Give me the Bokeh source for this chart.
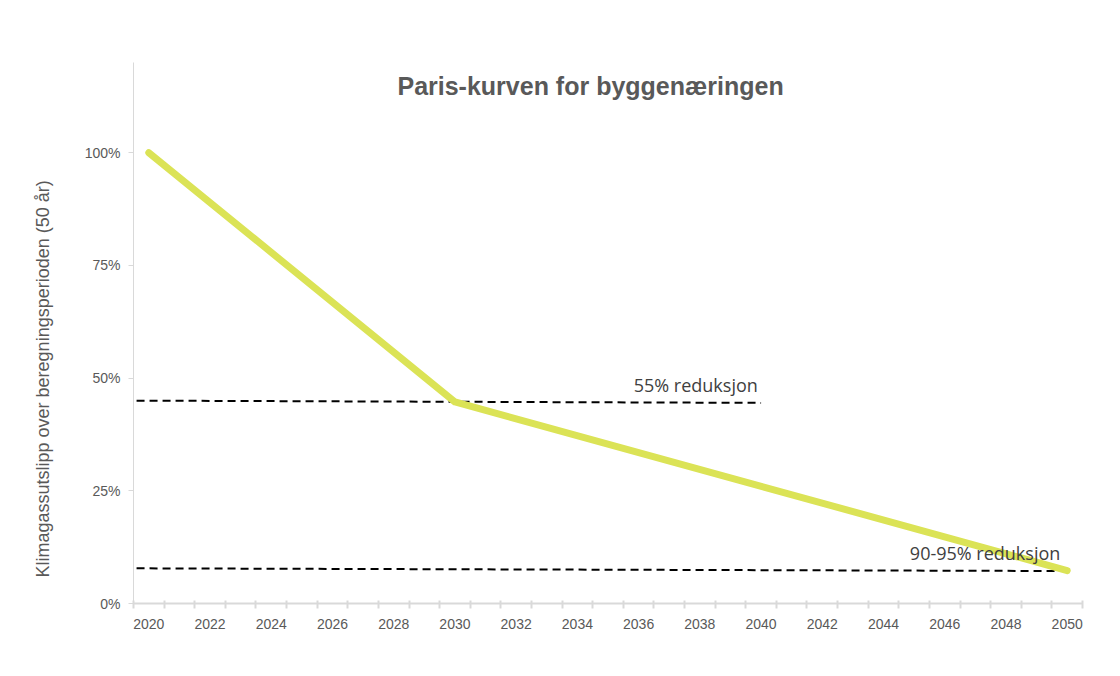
import numpy as np
from bokeh.plotting import figure
from bokeh.models import FixedTicker, Label, Range1d, CustomJSTickFormatter, Title
from bokeh.embed import file_html
from bokeh.resources import INLINE

# Data
years = [2020, 2030, 2050]
emissions = [100, 44.7, 7.3]

target55_x = [2019.6, 2040]
target55_y = [45.0, 44.5]
target90_x = [2019.6, 2050]
target90_y = [7.8, 7.2]

x_tick_labels = list(range(2020, 2051, 2))
x_minor = [y - 0.5 for y in range(2020, 2052)]
y_ticks = [0, 25, 50, 75, 100]

title_text = "Paris-kurven for byggenæringen"
ylabel_text = "Klimagassutslipp over  beregningsperioden (50 år)"
note55 = "55% reduksjon"
note90 = "90-95% reduksjon"

p = figure(width=1120, height=676, output_backend="svg", toolbar_location=None,
           x_range=Range1d(2019.5, 2050.5), y_range=Range1d(0, 120),
           min_border_left=133, min_border_right=38, min_border_top=62, min_border_bottom=73)
p.outline_line_color = None
p.xgrid.visible = False
p.ygrid.visible = False
p.background_fill_color = "white"
p.border_fill_color = "white"

p.line(target55_x, target55_y, line_color="black", line_width=2, line_dash="8 5")
p.line(target90_x, target90_y, line_color="black", line_width=2, line_dash="8 5")
p.line(years, emissions, line_color="#dbe356", line_width=7, line_cap="round", line_join="round")

# x axis
xa = p.xaxis[0]
xa.ticker = FixedTicker(ticks=x_tick_labels, minor_ticks=x_minor)
xa.major_tick_out = 0
xa.major_tick_in = 0
xa.minor_tick_out = 5
xa.minor_tick_in = 3
xa.minor_tick_line_color = "#d9d9d9"
xa.minor_tick_line_width = 2
xa.axis_line_color = "#d9d9d9"
xa.axis_line_width = 2
xa.major_label_text_font = "Liberation Sans"
xa.major_label_text_font_size = "14px"
xa.major_label_text_color = "#595959"
xa.major_label_standoff = 10

ya = p.yaxis[0]
ya.ticker = FixedTicker(ticks=y_ticks)
ya.formatter = CustomJSTickFormatter(code="return tick + '%';")
ya.major_tick_out = 5
ya.major_tick_in = 0
ya.minor_tick_out = 0
ya.minor_tick_in = 0
ya.major_tick_line_color = "#d9d9d9"
ya.axis_line_color = "#d9d9d9"
ya.major_label_text_font = "Liberation Sans"
ya.major_label_text_font_size = "14px"
ya.major_label_text_color = "#595959"
ya.major_label_standoff = 8

p.add_layout(Title(text=ylabel_text, align="left", offset=26, standoff=57,
                   text_font="Liberation Sans", text_font_style="normal",
                   text_font_size="18px", text_color="#595959"), "left")

p.add_layout(Label(x=2034.43, y=114.8, text=title_text, text_align="center",
                   text_baseline="middle", text_font="Liberation Sans",
                   text_font_style="bold", text_font_size="25px", text_color="#595959"))
p.add_layout(Label(x=2035.84, y=48.5, text=note55, text_align="left",
                   text_baseline="middle", text_font="Open Sans",
                   text_font_size="18px", text_color="#404040"))
p.add_layout(Label(x=2044.86, y=11.1, text=note90, text_align="left",
                   text_baseline="middle", text_font="Open Sans",
                   text_font_size="18px", text_color="#404040"))

open("out.html", "w").write(file_html(p, INLINE))
